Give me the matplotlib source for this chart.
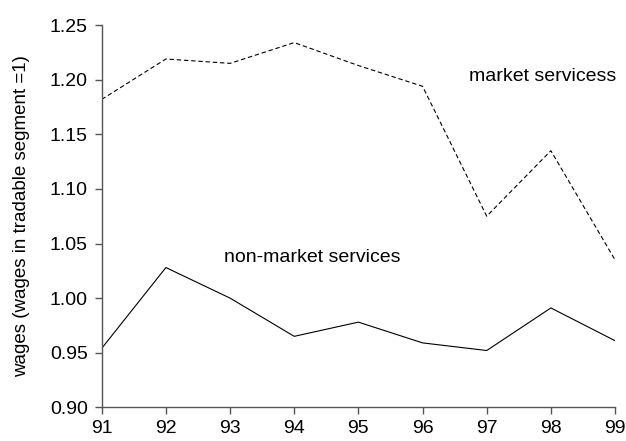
import matplotlib
matplotlib.use("Agg")
import matplotlib.pyplot as plt

# Wage ratios, 1991-1999
years = [91, 92, 93, 94, 95, 96, 97, 98, 99]
market = [1.182, 1.219, 1.215, 1.234, 1.213, 1.194, 1.075, 1.135, 1.035]
non_market = [0.954, 1.028, 1.000, 0.965, 0.978, 0.959, 0.952, 0.991, 0.961]
yticks = [0.90, 0.95, 1.00, 1.05, 1.10, 1.15, 1.20, 1.25]

plt.rcParams['font.family'] = ['Liberation Sans', 'DejaVu Sans']

fig = plt.figure(figsize=(6.26, 4.41), dpi=100)
ax = fig.add_axes([0.1625, 0.0764, 0.82, 0.8666])

ax.plot(years, market, color='black', lw=0.8, ls=(0, (4, 2.5)))
ax.plot(years, non_market, color='black', lw=0.8)

ax.set_xlim(91, 99)
ax.set_ylim(0.90, 1.25)
ax.set_xticks(years)
ax.set_xticklabels([str(y) for y in years])
ax.set_yticks(yticks)
ax.set_yticklabels([f"{v:.2f}" for v in yticks])

for s in ['top', 'right']:
    ax.spines[s].set_visible(False)
for s in ['left', 'bottom']:
    ax.spines[s].set_color('#555555')
    ax.spines[s].set_linewidth(1.0)
ax.tick_params(direction='out', length=5, width=1, color='#555555', labelsize=14)
ax.tick_params(axis='y', pad=5)
ax.tick_params(axis='x', pad=4)

ax.set_ylabel('wages (wages in tradable segment =1)', fontsize=13.5, labelpad=14)

ax.text(96.72, 1.203, 'market servicess', fontsize=14, va='center', ha='left')
ax.text(92.91, 1.037, 'non-market services', fontsize=14, va='center', ha='left')

fig.savefig('out.png', dpi=100)
